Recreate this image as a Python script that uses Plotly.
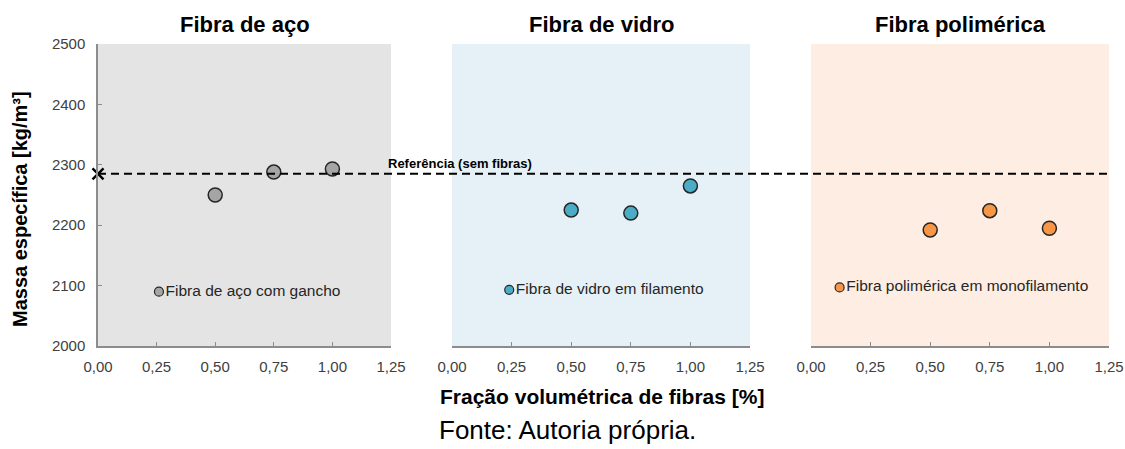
import plotly.graph_objects as go

# ---- data ----
panel_titles = ["Fibra de aço", "Fibra de vidro", "Fibra polimérica"]
legend_labels = ["Fibra de aço com gancho", "Fibra de vidro em filamento", "Fibra polimérica em monofilamento"]
fractions = [0.50, 0.75, 1.00]
steel_density = [2250, 2288, 2293]
glass_density = [2225, 2220, 2265]
poly_density = [2192, 2224, 2195]
series = [steel_density, glass_density, poly_density]
legend_x = [0.26, 0.24, 0.12]
legend_y = [2090, 2093, 2097]
reference_density = 2285
reference_label = "Referência (sem fibras)"
x_tickvals = [0, 0.25, 0.5, 0.75, 1.0, 1.25]
x_ticktext = ["0,00", "0,25", "0,50", "0,75", "1,00", "1,25"]
y_tickvals = [2000, 2100, 2200, 2300, 2400, 2500]
y_ticktext = ["2000", "2100", "2200", "2300", "2400", "2500"]
x_title = "Fração volumétrica de fibras [%]"
y_title = "Massa específica [kg/m³]"
source = "Fonte: Autoria própria."

# ---- style ----
W, H = 1125, 449


def px(x):
    return x / W


def py(y):
    return 1 - y / H


fills = ["#a5a5a5", "#4bacc6", "#f79646"]
bgs = ["#e4e4e4", "#e5f1f6", "#fdede2"]
x_domains = [(px(98), px(391)), (px(452), px(750)), (px(811), px(1109))]
y_domain = (py(346), py(44))
font_family = "Liberation Sans, Arial, sans-serif"
tick_font = dict(size=15, color="#404040", family=font_family)

fig = go.Figure()
axis_names = ["", "2", "3"]
for i in range(3):
    xa = "x" + axis_names[i]
    ya = "y" + axis_names[i]
    fig.add_trace(go.Scatter(
        x=fractions, y=series[i], mode="markers", xaxis=xa, yaxis=ya,
        marker=dict(size=14, color=fills[i], line=dict(color="#262626", width=1.5)),
        showlegend=False, cliponaxis=False))
    fig.add_trace(go.Scatter(
        x=[legend_x[i]], y=[legend_y[i]], mode="markers+text", xaxis=xa, yaxis=ya,
        text=[legend_labels[i]], textposition="middle right",
        textfont=dict(size=15.5, color="#262626", family=font_family),
        marker=dict(size=9, color=fills[i], line=dict(color="#262626", width=1.2)),
        showlegend=False, cliponaxis=False))
    fig.add_shape(type="rect", xref=f"{xa} domain", yref=f"{ya} domain",
                  x0=0, x1=1, y0=0, y1=1, fillcolor=bgs[i], line=dict(width=0), layer="below")
    fig.add_annotation(text=f"<b>{panel_titles[i]}</b>", xref=f"{xa} domain", yref="paper",
                       x=0.5, y=py(24), showarrow=False, xanchor="center", yanchor="middle",
                       font=dict(size=22, color="#000000", family=font_family))

# reference marker and line
fig.add_trace(go.Scatter(x=[0], y=[reference_density], mode="markers", xaxis="x", yaxis="y",
                         marker=dict(symbol="x-thin", size=11, line=dict(color="#000000", width=2.4)),
                         showlegend=False, cliponaxis=False))
fig.add_shape(type="line", xref="paper", yref="y", x0=x_domains[0][0], x1=x_domains[2][1],
              y0=reference_density, y1=reference_density,
              line=dict(color="#000000", width=2, dash="8px,5px"), layer="above")
fig.add_annotation(text=f"<b>{reference_label}</b>", xref="x", yref="y", x=1.23, y=reference_density,
                   xanchor="left", yanchor="bottom", yshift=1, showarrow=False,
                   font=dict(size=13, color="#000000", family=font_family))

# axis titles and source
fig.add_annotation(text=f"<b>{y_title}</b>", xref="paper", yref="paper", x=px(20),
                   y=py(209), textangle=-90, showarrow=False,
                   xanchor="center", yanchor="middle",
                   font=dict(size=20, color="#000000", family=font_family))
fig.add_annotation(text=f"<b>{x_title}</b>", xref="paper", yref="paper", x=px(602), y=py(396),
                   showarrow=False, xanchor="center", yanchor="middle",
                   font=dict(size=21, color="#000000", family=font_family))
fig.add_annotation(text=source, xref="paper", yref="paper", x=px(567), y=py(430),
                   showarrow=False, xanchor="center", yanchor="middle",
                   font=dict(size=26, color="#000000", family=font_family))

xcommon = dict(range=[0, 1.25], tickvals=x_tickvals, ticktext=x_ticktext, showgrid=False,
               zeroline=False, showline=True, linecolor="#8c8c8c", linewidth=1.5,
               ticks="inside", ticklen=4, tickcolor="#8c8c8c", automargin=False,
               ticklabeloverflow="allow", ticklabelstandoff=6, tickfont=tick_font)
ycommon = dict(range=[2000, 2500], showgrid=False, zeroline=False, automargin=False)

layout = dict(width=W, height=H, margin=dict(l=0, r=0, t=0, b=0, autoexpand=False),
              template="none",
              paper_bgcolor="white", plot_bgcolor="rgba(0,0,0,0)", showlegend=False)
for i in range(3):
    layout["xaxis" + axis_names[i]] = dict(xcommon, domain=list(x_domains[i]), anchor="y" + axis_names[i])
    if i == 0:
        layout["yaxis"] = dict(ycommon, domain=list(y_domain), anchor="x", tickvals=y_tickvals,
                               ticktext=y_ticktext, showline=True, linecolor="#8c8c8c", linewidth=1.5,
                               ticks="inside", ticklen=4, tickcolor="#8c8c8c",
                               ticklabelstandoff=8, tickfont=tick_font)
    else:
        layout["yaxis" + axis_names[i]] = dict(ycommon, domain=list(y_domain), anchor="x" + axis_names[i],
                                               showticklabels=False, showline=False, ticks="")
fig.update_layout(**layout)
# remove the default page margin so the figure fills the 1125x449 window exactly
page_css = "document.body.style.margin='0';document.documentElement.style.overflow='hidden';"
fig.write_html("out.html", post_script=page_css, config={"displayModeBar": False})
